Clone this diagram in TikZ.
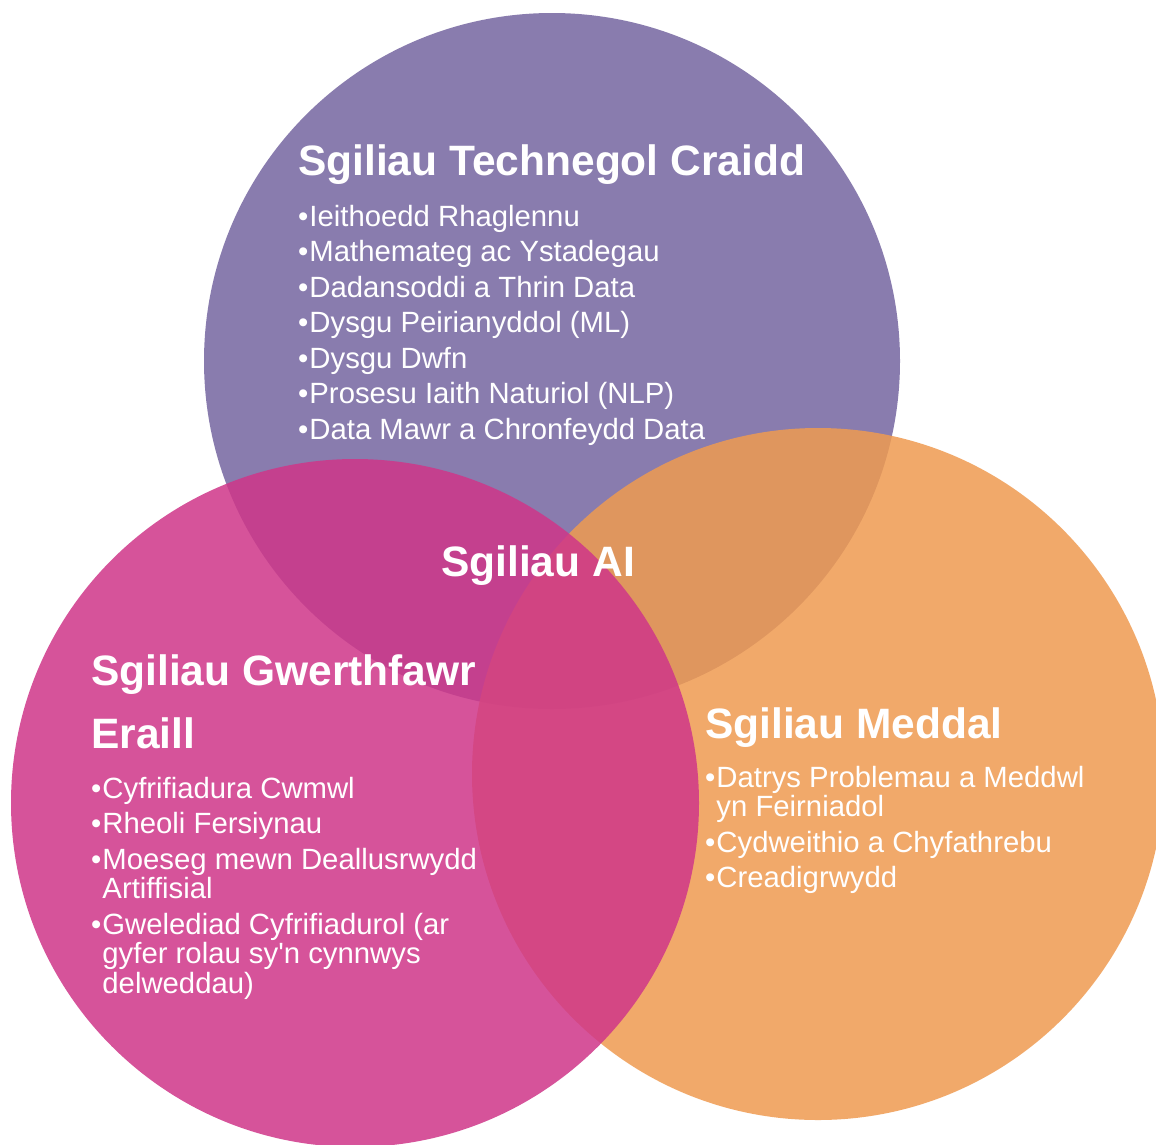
\documentclass[tikz,border=0pt]{standalone}
\usepackage{fontspec}
\setmainfont{Liberation Sans}
\definecolor{cpurple}{RGB}{117,102,160}
\definecolor{corange}{RGB}{239,155,81}
\definecolor{cpink}{RGB}{207,54,137}
\newcommand\itm[1]{\hbox{•\kern1pt #1}}
\newcommand\cnt[1]{\hbox{\phantom{•}\kern1pt #1}}
\newcommand\gap{\vskip 6pt}
\newcommand\blist[1]{\vtop{\baselineskip=29.5pt\lineskip=0pt\lineskiplimit=-100pt #1}}
\tikzset{
  venn/.style={fill opacity=0.85, draw=none},
  ttl/.style={anchor=base west, inner sep=0pt, text=white, font=\fontsize{42.5}{63}\selectfont\bfseries},
  lst/.style={anchor=base west, inner sep=0pt, text=white, font=\fontsize{29.3}{29.5}\selectfont},
}
\begin{document}
\begin{tikzpicture}[x=1pt,y=-1pt]
\fill[white] (0,0) rectangle (1156,1144);
\useasboundingbox (0,0) rectangle (1156,1144);
\begin{scope}
\clip (0,0) rectangle (1156,1144);
\fill[venn, cpurple] (552,361) circle[radius=348pt];
\fill[venn, corange] (818,774) circle[radius=346pt];
\fill[venn, cpink] (355,803) circle[radius=344pt];
\end{scope}
% purple
\node[ttl] (ttech) at (298,175) {Sgiliau Technegol Craidd};
\node[lst] (ltech) at (298,226) {\blist{%
\itm{Ieithoedd Rhaglennu}\gap
\itm{Mathemateg ac Ystadegau}\gap
\itm{Dadansoddi a Thrin Data}\gap
\itm{Dysgu Peirianyddol (ML)}\gap
\itm{Dysgu Dwfn}\gap
\itm{Prosesu Iaith Naturiol (NLP)}\gap
\itm{Data Mawr a Chronfeydd Data}}};
% centre
\node[ttl] (tai) at (441,576) {Sgiliau AI};
% pink
\node[ttl] (tother) at (91,685) {\vtop{\baselineskip=63pt\hbox{Sgiliau Gwerthfawr}\hbox{Eraill}}};
\node[lst] (lother) at (91,798) {\blist{%
\itm{Cyfrifiadura Cwmwl}\gap
\itm{Rheoli Fersiynau}\gap
\itm{Moeseg mewn Deallusrwydd}
\cnt{Artiffisial}\gap
\itm{Gwelediad Cyfrifiadurol (ar}
\cnt{gyfer rolau sy\textquotesingle n cynnwys}
\cnt{delweddau)}}};
% orange
\node[ttl] (tsoft) at (705,738) {Sgiliau Meddal};
\node[lst] (lsoft) at (705,787) {\blist{%
\itm{Datrys Problemau a Meddwl}
\cnt{yn Feirniadol}\gap
\itm{Cydweithio a Chyfathrebu}\gap
\itm{Creadigrwydd}}};
\end{tikzpicture}
\end{document}
